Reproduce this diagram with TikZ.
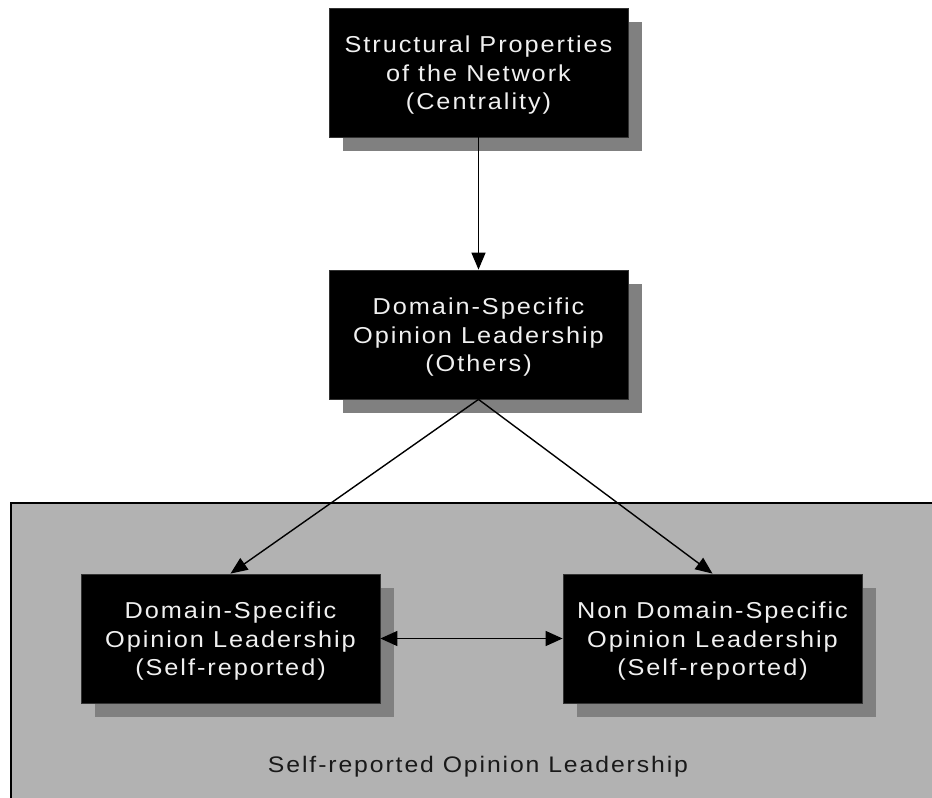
\documentclass[tikz,border=0pt]{standalone}
\usepackage{fontspec}
\setmainfont[LetterSpace=8.5,FakeStretch=1.1]{Liberation Sans}
\usetikzlibrary{arrows.meta}
\definecolor{regiongrey}{RGB}{178,178,178}
\definecolor{shadowgrey}{RGB}{128,128,128}
\definecolor{textwhite}{RGB}{240,240,240}
\tikzset{
  x=1pt, y=-1pt,
  blackbox/.style={fill=black, draw=black!80, line width=0.8pt,
    minimum width=299pt, minimum height=129pt, inner sep=0pt},
  boxtext/.style={text=textwhite, align=center, inner sep=0pt, yshift=-3pt,
    font=\fontsize{23}{28.5}\selectfont},
  shadowbox/.style={fill=shadowgrey, draw=none, minimum width=299pt, minimum height=129pt, inner sep=0pt},
  conn/.style={line width=1.4pt, -{Triangle[length=17pt,width=14pt]}},
  biconn/.style={line width=1.4pt, {Triangle[length=17pt,width=15pt]}-{Triangle[length=17pt,width=15pt]}},
}
\begin{document}
\begin{tikzpicture}
\useasboundingbox (0,0) rectangle (932,798);
\clip (0,0) rectangle (932,798);
% region
\draw[fill=regiongrey, line width=1.2pt] (11,503) rectangle (945,810);
\node[font=\fontsize{22.5}{28.5}\selectfont, text=black!90] (reglabel) at (478,767) {Self-reported Opinion Leadership};
% shadows
\node[shadowbox] (s1) at (492.5,86.5) {};
\node[shadowbox] (s2) at (492.5,348.5) {};
\node[shadowbox] (s3) at (244.5,652.5) {};
\node[shadowbox] (s4) at (726.5,652.5) {};
% boxes
\node[blackbox, label={[boxtext]center:{Structural Properties\\of the Network\\(Centrality)}}] (top) at (478.5,72.5) {};
\node[blackbox, label={[boxtext]center:{Domain-Specific\\Opinion Leadership\\(Others)}}] (mid) at (478.5,334.5) {};
\node[blackbox, label={[boxtext]center:{Domain-Specific\\Opinion Leadership\\(Self-reported)}}] (left) at (230.5,638.5) {};
\node[blackbox, label={[boxtext]center:{Non Domain-Specific\\Opinion Leadership\\(Self-reported)}}] (right) at (712.5,638.5) {};
% connectors
\draw[conn] (top.south) -- (mid.north);
\draw[conn] (mid.south) -- (left.north);
\draw[conn] (mid.south) -- (right.north);
\draw[biconn] (left.east) -- (right.west);
\end{tikzpicture}
\end{document}
